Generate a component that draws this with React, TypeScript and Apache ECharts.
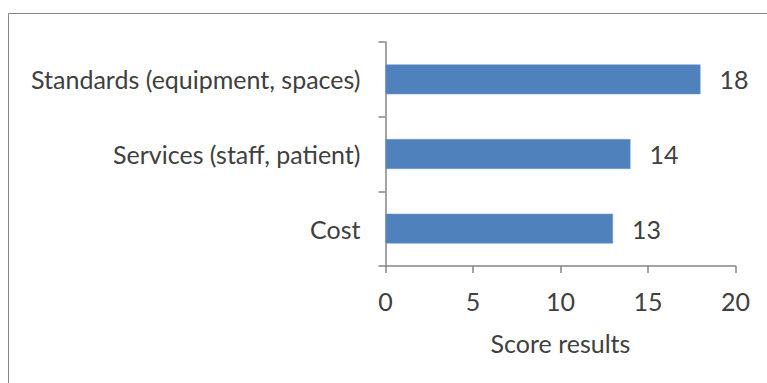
import React, { useEffect, useRef } from "react";
import * as echarts from "echarts";

// Score per evaluation criterion
const categories: string[] = ["Cost", "Services (staff, patient)", "Standards (equipment, spaces)"];
const scores: number[] = [13, 14, 18];
const xTicks = { min: 0, max: 20, interval: 5 };
const axisTitle = "Score results";

const FONT = "Lato, 'Open Sans', sans-serif";
const FONT_SIZE = 25;
const TEXT = "#404040";
const AXIS = "#868686";

export default function App() {
  const ref = useRef<HTMLDivElement>(null);

  useEffect(() => {
    if (!ref.current) return;
    const chart = echarts.init(ref.current, undefined, { renderer: "svg" });
    chart.setOption({
      animation: false,
      backgroundColor: "#ffffff",
      textStyle: { fontFamily: FONT },
      graphic: [
        {
          type: "rect",
          shape: { x: 8.5, y: 13.5, width: 800, height: 400 },
          style: { fill: "none", stroke: AXIS, lineWidth: 1 },
          silent: true,
          z: 0,
        },
      ],
      grid: { left: 385.5, right: 31.5, top: 42, bottom: 117, containLabel: false },
      xAxis: {
        type: "value",
        min: xTicks.min,
        max: xTicks.max,
        interval: xTicks.interval,
        name: axisTitle,
        nameLocation: "middle",
        nameGap: 64,
        nameTextStyle: { color: TEXT, fontSize: FONT_SIZE, fontFamily: FONT },
        axisLine: { show: true, lineStyle: { color: AXIS, width: 1.5 } },
        axisTick: { show: true, length: 7, lineStyle: { color: AXIS, width: 1.5 } },
        axisLabel: { color: TEXT, fontSize: FONT_SIZE, margin: 22, fontFamily: FONT },
        splitLine: { show: false },
      },
      yAxis: {
        type: "category",
        data: categories,
        axisLine: { show: true, lineStyle: { color: AXIS, width: 1.5 } },
        axisTick: { show: true, length: 7, alignWithLabel: false, lineStyle: { color: AXIS, width: 1.5 } },
        axisLabel: { color: TEXT, fontSize: FONT_SIZE, margin: 25, fontFamily: FONT },
      },
      series: [
        {
          type: "bar",
          data: scores,
          barCategoryGap: "60%",
          itemStyle: { color: "#4f81bd", borderColor: "#6f9bd0", borderWidth: 0.5 },
          label: {
            show: true,
            position: "right",
            distance: 19,
            color: TEXT,
            fontSize: FONT_SIZE,
            fontFamily: FONT,
          },
        },
      ],
    });
    return () => chart.dispose();
  }, []);

  return (
    <div
      ref={ref}
      style={{ position: "fixed", left: 0, top: 0, width: 767, height: 383 }}
    />
  );
}
